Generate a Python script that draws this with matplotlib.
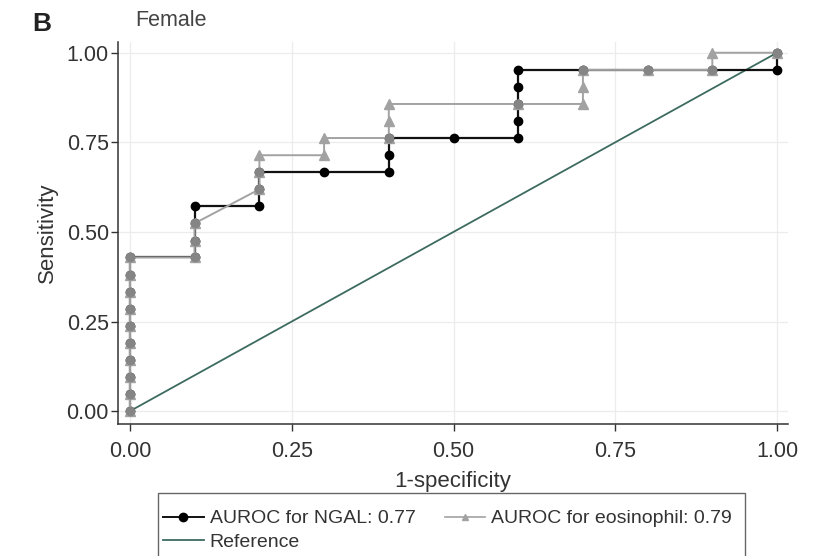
import numpy as np
import matplotlib
matplotlib.use("Agg")
import matplotlib.pyplot as plt
from matplotlib.lines import Line2D
from matplotlib.patches import Rectangle

# ROC coordinates (1-specificity, sensitivity)
ngal_fpr = [0, 0, 0, 0, 0, 0, 0, 0, 0, 0,
            0.1, 0.1, 0.1, 0.1,
            0.2, 0.2, 0.2,
            0.3,
            0.4, 0.4, 0.4,
            0.5,
            0.6, 0.6, 0.6, 0.6, 0.6,
            0.7, 0.8, 0.9, 1.0, 1.0]
ngal_tpr = [0.000, 0.048, 0.095, 0.143, 0.190, 0.238, 0.286, 0.333, 0.381, 0.429,
            0.429, 0.476, 0.524, 0.571,
            0.571, 0.619, 0.667,
            0.667,
            0.667, 0.714, 0.762,
            0.762,
            0.762, 0.810, 0.857, 0.905, 0.952,
            0.952, 0.952, 0.952, 0.952, 1.000]

eos_fpr = [0, 0, 0, 0, 0, 0, 0, 0, 0, 0,
           0.1, 0.1, 0.1,
           0.2, 0.2, 0.2,
           0.3, 0.3,
           0.4, 0.4, 0.4,
           0.6,
           0.7, 0.7, 0.7,
           0.8, 0.9, 0.9, 1.0]
eos_tpr = [0.000, 0.048, 0.095, 0.143, 0.190, 0.238, 0.286, 0.333, 0.381, 0.429,
           0.429, 0.476, 0.524,
           0.619, 0.667, 0.714,
           0.714, 0.762,
           0.762, 0.810, 0.857,
           0.857,
           0.857, 0.905, 0.952,
           0.952, 0.952, 1.000, 1.000]

ref_x = [0, 1]
ref_y = [0, 1]

auc_ngal = 0.77
auc_eos = 0.79

ticks = [0.00, 0.25, 0.50, 0.75, 1.00]
tick_labels = ["0.00", "0.25", "0.50", "0.75", "1.00"]

BLACK = "#000000"
GREY = "#a2a2a2"
SHARED = "#858585"
REF = "#3d6b60"
TEXT = "#333333"

plt.rcParams["font.family"] = ["Liberation Sans", "DejaVu Sans"]

fig = plt.figure(figsize=(8.23, 5.56), dpi=100)
ax = fig.add_axes([0.1434, 0.2374, 0.8141, 0.6871])

ax.plot(ref_x, ref_y, color=REF, lw=1.3, zorder=2)
ax.plot(ngal_fpr, ngal_tpr, color="#111111", lw=1.6, marker="o", ms=6,
        mfc=BLACK, mec=BLACK, zorder=3)
ax.plot(eos_fpr, eos_tpr, color=GREY, lw=1.4, marker="^", ms=6.5,
        mfc=GREY, mec=GREY, zorder=4)

# points shared by both curves
ngal_pts = set(zip(ngal_fpr, ngal_tpr))
shared = [p for p in zip(eos_fpr, eos_tpr) if p in ngal_pts]
ax.plot([p[0] for p in shared], [p[1] for p in shared], ls="none", marker="o",
        ms=6, mfc=SHARED, mec=SHARED, zorder=5)

ax.set_xlim(-0.0185, 1.017)
ax.set_ylim(-0.036, 1.03)
ax.set_xticks(ticks)
ax.set_xticklabels(tick_labels)
ax.set_yticks(ticks)
ax.set_yticklabels(tick_labels)
ax.tick_params(axis="both", labelsize=15.5, colors=TEXT, length=5,
               width=1, direction="out")
ax.tick_params(axis="x", pad=7)
ax.tick_params(axis="y", pad=1.5)
ax.grid(True, color="#ececec", lw=0.9)
ax.set_axisbelow(True)
for s in ("top", "right"):
    ax.spines[s].set_visible(False)
for s in ("left", "bottom"):
    ax.spines[s].set_color(TEXT)
    ax.spines[s].set_linewidth(1.1)

ax.set_xlabel("1-specificity", fontsize=16, color=TEXT, labelpad=7)
ax.set_ylabel("Sensitivity", fontsize=16, color=TEXT, labelpad=6)

fig.text(135 / 823, 1 - 21 / 556, "Female", fontsize=15.5, color="#444444",
         ha="left", va="center")
fig.text(32 / 823, 1 - 24 / 556, "B", fontsize=19, color="#222222",
         fontweight="bold", ha="left", va="center")

# legend box, running off the bottom edge of the figure
fig.patches.append(Rectangle((158 / 823, -0.02), (745 - 158) / 823,
                             (556 - 493) / 556 + 0.02, transform=fig.transFigure,
                             fill=False, edgecolor="#666666", lw=1.0))

handles = [
    Line2D([], [], color="#111111", lw=1.4, marker="o", ms=6, mfc=BLACK, mec=BLACK),
    Line2D([], [], color=REF, lw=1.3),
    Line2D([], [], color=GREY, lw=1.2, marker="^", ms=5, mfc=GREY, mec=GREY),
]
labels = [f"AUROC for NGAL: {auc_ngal:.2f}", "Reference",
          f"AUROC for eosinophil: {auc_eos:.2f}"]
leg = fig.legend(handles, labels, ncol=2, loc="upper left",
                 bbox_to_anchor=(157 / 823, 1 - 504 / 556), borderaxespad=0,
                 fontsize=14, frameon=False, handlelength=2.1,
                 columnspacing=1.5, borderpad=0.3, labelspacing=0.3,
                 handletextpad=0.3)
for t in leg.get_texts():
    t.set_color(TEXT)

fig.savefig("out.png", dpi=100)
